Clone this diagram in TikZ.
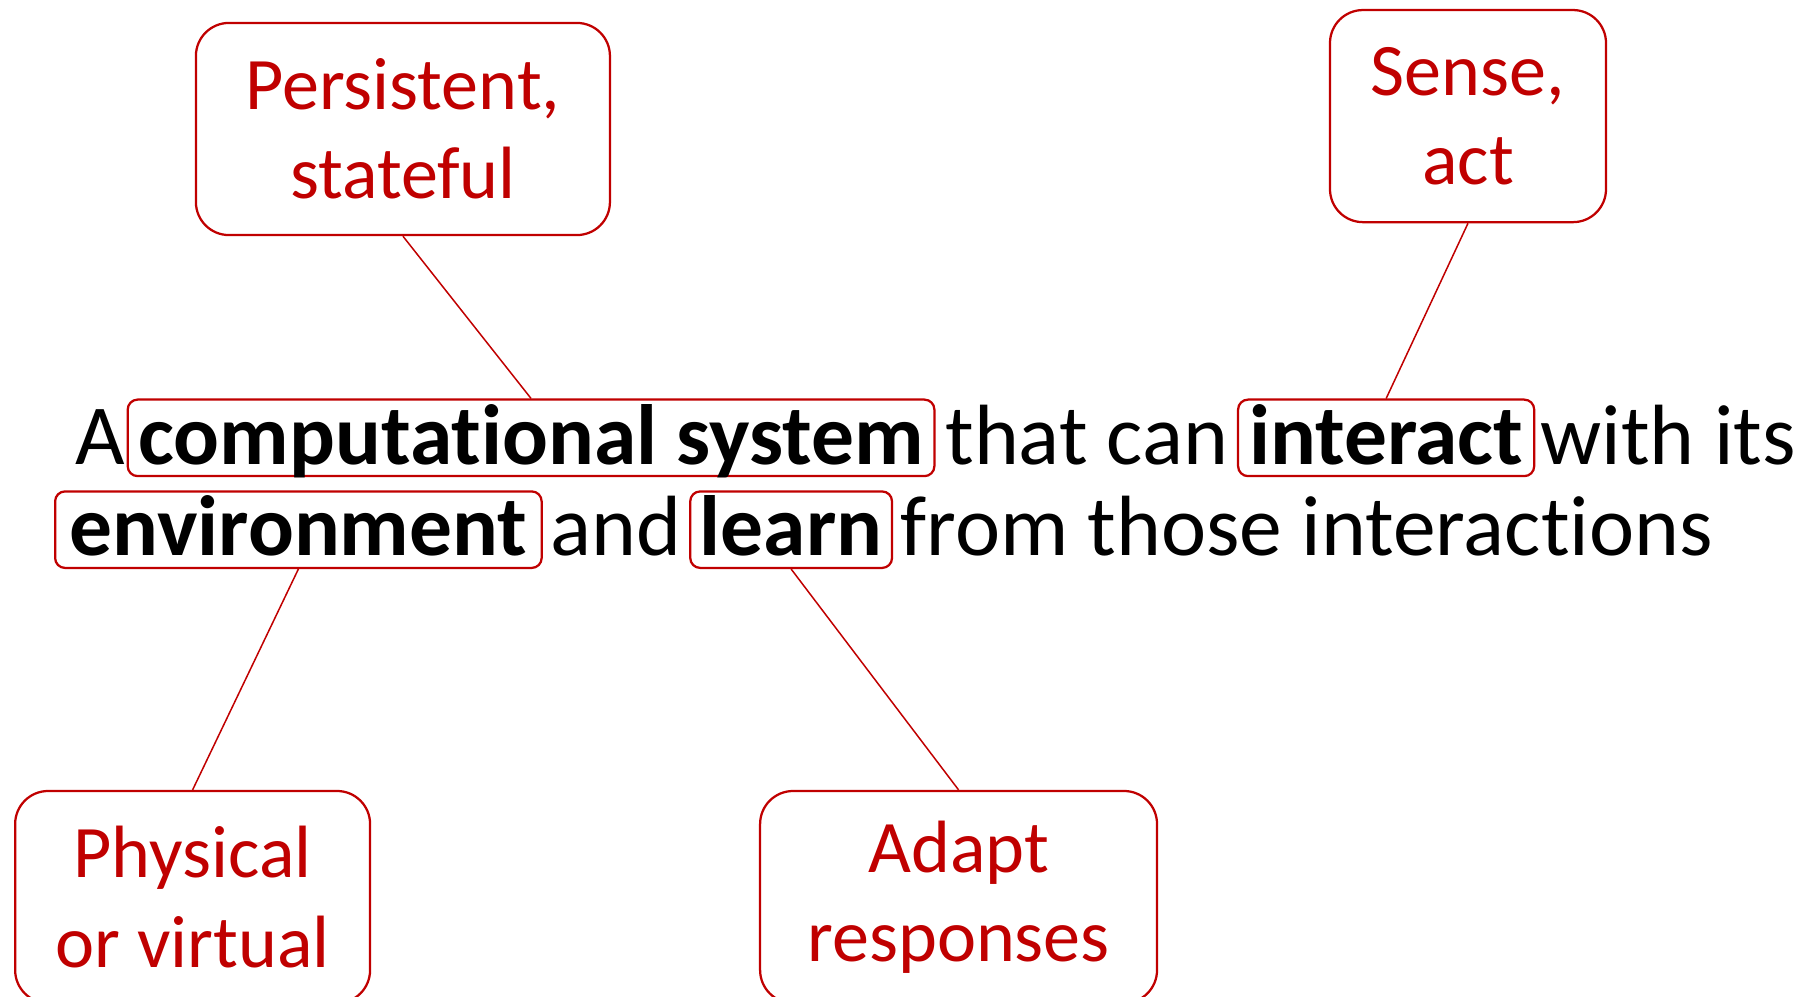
\documentclass[tikz,border=0pt]{standalone}
\usepackage{fontspec}
\setmainfont{Carlito}[Ligatures=NoCommon]
\usepackage{xcolor}
\usepackage{tikz}
\definecolor{darkred}{HTML}{C00000}
\tikzset{
  % callout boxes around the sentence
  note/.style={rectangle, rounded corners=11pt, draw=darkred, line width=0.75pt, text=darkred, font=\fontsize{24.7}{29.7}\selectfont, align=center, minimum height=70.7pt, minimum width=#1, inner sep=0pt},
  % boxed key words inside the sentence
  keyword/.style={rectangle, rounded corners=3.3pt, draw=darkred, line width=0.75pt, font=\fontsize{28.5}{30}\selectfont\bfseries, inner xsep=#1, inner ysep=0pt, text height=21.5pt, text depth=4pt, anchor=base west},
  keyword/.default={4pt},
  plain/.style={font=\fontsize{28.5}{30}\selectfont, inner sep=0pt, anchor=base west},
  link/.style={draw=darkred, line width=0.5pt},
}
\begin{document}
\begin{tikzpicture}[x=1pt, y=1pt]
    \useasboundingbox (0,0) rectangle (601.3,332);
    % Sentence, line 1
    \def\yOne{177.3} \def\yTwo{146.7}
    \node[plain] (a) at (24.9,\yOne) {A};
    \node[keyword=3.6pt] (system) at (42.2,\yOne) {computational system};
    \node[plain] (can) at (314.9,\yOne) {that can};
    \node[keyword=3.7pt] (interact) at (412.3,\yOne) {interact};
    \node[plain] (with) at (513.3,\yOne) {with its};
    % Sentence, line 2
    \node[keyword=4.8pt] (env) at (18,\yTwo) {environment};
    \node[plain] (and) at (183.3,\yTwo) {and};
    \node[keyword=3.2pt] (learn) at (229.7,\yTwo) {learn};
    \node[plain] (from) at (300,\yTwo) {from those interactions};
    % Callouts
    \node[note=138pt] (persist) at (134.3,289) {Persistent,\\stateful};
    \node[note=92pt] (sense) at (489.3,293.3) {Sense,\\act};
    \node[note=118.3pt] (phys) at (64.2,33) {Physical\\or virtual};
    \node[note=132.3pt] (adapt) at (319.5,33) {Adapt\\responses};
    % Connectors
    \draw[link] (persist.south) -- (system.north);
    \draw[link] (sense.south) -- (interact.north);
    \draw[link] (env.south) -- (phys.north);
    \draw[link] (learn.south) -- (adapt.north);
\end{tikzpicture}
\end{document}
